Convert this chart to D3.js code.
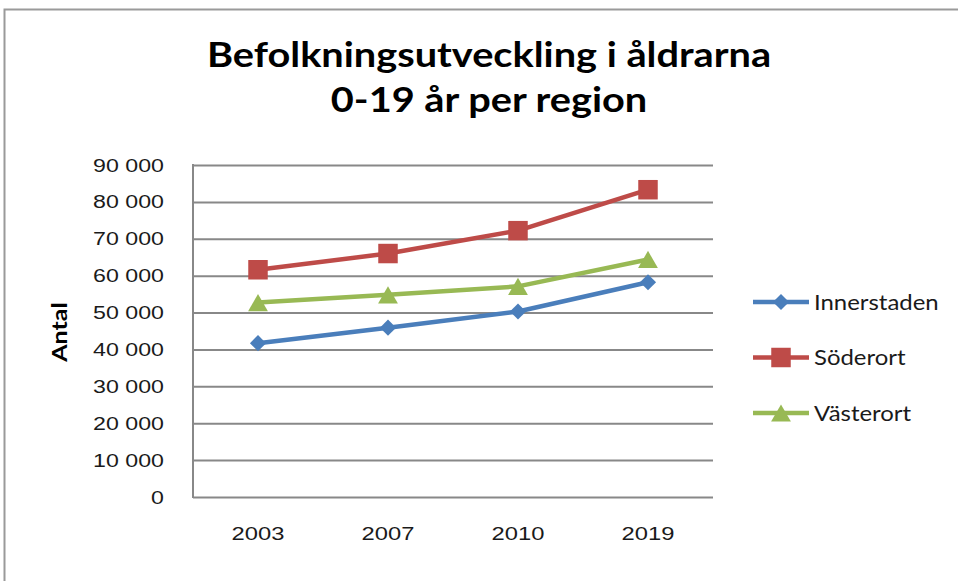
<!DOCTYPE html>
<html>
<head>
<meta charset="utf-8">
<script src="https://cdn.jsdelivr.net/npm/d3@7"></script>
<style>
  body { margin: 0; background: #fff; }
  svg { display: block; font-family: Lato, "Open Sans", sans-serif; }
</style>
</head>
<body>
<svg width="958" height="581"></svg>
<script>
var years = ['2003', '2007', '2010', '2019'];
var innerstaden = [41700, 45900, 50300, 58200];
var soderort = [61600, 66000, 72200, 83300];
var vasterort = [52700, 54800, 57100, 64400];
var yTicks = [0, 10000, 20000, 30000, 40000, 50000, 60000, 70000, 80000, 90000];
var titleLines = ['Befolkningsutveckling i åldrarna', '0-19 år per region'];

// diamond = square turned 45 degrees, like the spreadsheet marker
var diamond = {
  draw: function (ctx, size) {
    var r = Math.sqrt(size / 2);
    ctx.moveTo(0, -r); ctx.lineTo(r, 0); ctx.lineTo(0, r); ctx.lineTo(-r, 0); ctx.closePath();
  }
};
// triangle centred on its bounding box
var triangle = {
  draw: function (ctx, size) {
    var s = Math.sqrt(size * 4 / Math.sqrt(3)), h = s * Math.sqrt(3) / 2;
    ctx.moveTo(0, -h / 2); ctx.lineTo(s / 2, h / 2); ctx.lineTo(-s / 2, h / 2); ctx.closePath();
  }
};

var series = [
  { name: 'Innerstaden', values: innerstaden, color: '#4a7ebb', symbol: diamond, size: 130 },
  { name: 'Söderort', values: soderort, color: '#be4b48', symbol: d3.symbolSquare, size: 380 },
  { name: 'Västerort', values: vasterort, color: '#98b954', symbol: triangle, size: 170 }
];

var svg = d3.select('svg');

// outer chart frame
svg.append('rect')
  .attr('x', 4.5).attr('y', 9.5)
  .attr('width', 1000).attr('height', 600)
  .attr('fill', 'none')
  .attr('stroke', '#9a9a9a')
  .attr('stroke-width', 2);

var plot = { left: 193, right: 713, top: 165, bottom: 497 };

var x = d3.scaleBand().domain(years).range([plot.left, plot.right]);
var y = d3.scaleLinear().domain([0, 90000]).range([plot.bottom, plot.top]);

var fmt = function (d) { return d3.format(',')(d).replace(/,/g, ' '); };

// grid + y axis
var yAxis = svg.append('g')
  .attr('transform', 'translate(' + plot.left + ',0)')
  .call(d3.axisLeft(y).tickValues(yTicks).tickSize(-(plot.right - plot.left)).tickFormat(fmt));
yAxis.select('.domain').remove();
yAxis.selectAll('.tick line').attr('stroke', '#888').attr('stroke-width', 2);
yAxis.selectAll('.tick text')
  .attr('x', null)
  .attr('transform', 'translate(-29,0) scale(1.22,1)')
  .attr('fill', '#1a1a1a')
  .style('font-size', '19px');

// left axis line
svg.append('line')
  .attr('x1', plot.left).attr('x2', plot.left)
  .attr('y1', plot.top - 1).attr('y2', plot.bottom + 1)
  .attr('stroke', '#888').attr('stroke-width', 2);

// x axis labels
var xAxis = svg.append('g')
  .attr('transform', 'translate(0,' + plot.bottom + ')')
  .call(d3.axisBottom(x).tickSize(0).tickPadding(30));
xAxis.select('.domain').remove();
xAxis.selectAll('.tick text')
  .attr('transform', 'scale(1.25,1)')
  .attr('fill', '#1a1a1a')
  .style('font-size', '19px');

// y title
svg.append('text')
  .attr('transform', 'translate(67,332) rotate(-90) scale(1.25,1)')
  .attr('text-anchor', 'middle')
  .style('font-size', '20px')
  .style('font-weight', 'bold')
  .text('Antal');

// chart title
svg.append('g').selectAll('text')
  .data(titleLines)
  .enter()
  .append('text')
  .attr('transform', function (d, i) { return 'translate(489,' + (67 + i * 45) + ') scale(1.135,1)'; })
  .attr('text-anchor', 'middle')
  .style('font-size', '35px')
  .style('font-weight', 'bold')
  .text(function (d) { return d; });

var line = d3.line()
  .x(function (d, i) { return x(years[i]) + x.bandwidth() / 2; })
  .y(function (d) { return y(d); });

series.forEach(function (s) {
  svg.append('path')
    .datum(s.values)
    .attr('d', line)
    .attr('fill', 'none')
    .attr('stroke', s.color)
    .attr('stroke-width', 4.5)
    .attr('stroke-linejoin', 'round');

  svg.append('g').selectAll('path')
    .data(s.values)
    .enter()
    .append('path')
    .attr('d', d3.symbol().type(s.symbol).size(s.size))
    .attr('transform', function (d, i) {
      return 'translate(' + (x(years[i]) + x.bandwidth() / 2) + ',' + y(d) + ')';
    })
    .attr('fill', s.color);
});

// legend
var legend = svg.append('g').selectAll('g')
  .data(series)
  .enter()
  .append('g')
  .attr('transform', function (d, i) { return 'translate(753,' + (302 + i * 55.5) + ')'; });

legend.append('line')
  .attr('x1', 0).attr('x2', 56)
  .attr('stroke', function (d) { return d.color; })
  .attr('stroke-width', 4.5);

legend.append('path')
  .attr('d', function (d) { return d3.symbol().type(d.symbol).size(d.size)(); })
  .attr('transform', 'translate(28,0)')
  .attr('fill', function (d) { return d.color; });

legend.append('text')
  .attr('transform', 'translate(61,0) scale(1.14,1)')
  .attr('dy', '0.36em')
  .attr('fill', '#1a1a1a')
  .style('font-size', '21px')
  .text(function (d) { return d.name; });
</script>
</body>
</html>
